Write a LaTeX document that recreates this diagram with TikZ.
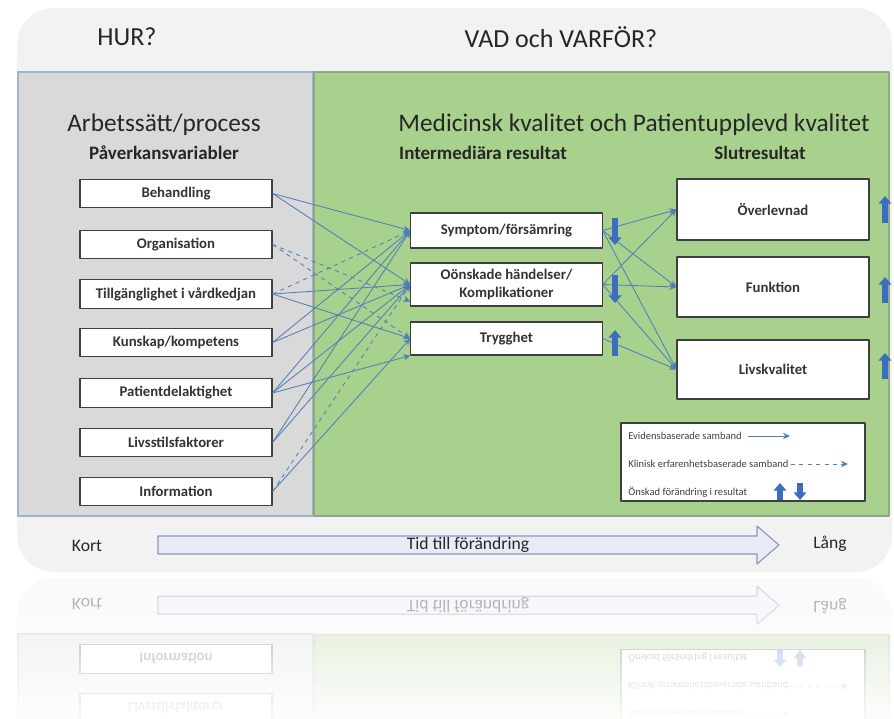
\documentclass[tikz,border=0pt]{standalone}
\usepackage{fontspec}
\setmainfont{Carlito}
\usetikzlibrary{arrows.meta}
\definecolor{panelgray}{HTML}{F2F2F2}
\definecolor{leftgray}{HTML}{D9D9D9}
\definecolor{leftedge}{HTML}{9DB3D6}
\definecolor{greenfill}{HTML}{A9D18E}
\definecolor{greenedge}{HTML}{8FA886}
\definecolor{boxedge}{HTML}{3F3F3F}
\definecolor{linkblue}{HTML}{4F7FB8}
\definecolor{fatblue}{HTML}{3D6DBE}
\definecolor{timefill}{HTML}{E8EBF5}
\definecolor{timeedge}{HTML}{8C97BD}

% det som ocksaa syns i spegelbilden
\newcommand\chartbase{%
  \fill[panelgray,rounded corners=26pt] (17,8) rectangle (892,572);
  \draw[leftedge,fill=leftgray,line width=1.2pt] (18,72) rectangle (313,516);
  \draw[greenedge,fill=greenfill,line width=0.8pt] (314,72) rectangle (889,516);
  \node[pbox] (liv) at (176,442.5) {Livsstilsfaktorer};
  \node[pbox] (inf) at (176,491.5) {Information};
  % teckenforklaring
  \draw[boxedge,fill=white,line width=0.8pt] (621,423) rectangle (865,501);
  \node[legtext] (evid) at (628,436) {Evidensbaserade samband};
  \draw[conn] (evid.east) ++(6,0) -- ++(42,0);
  \node[legtext] (klin) at (628,464) {Klinisk erfarenhetsbaserade samband};
  \draw[conn,dashed] (klin.east) ++(2,0) -- (848,464);
  \node[legtext] (onskad) at (628,492) {Önskad förändring i resultat};
  \draw[fat] (780,500) -- (780,483);
  \draw[fat] (800,483) -- (800,500);
  % tidsaxel
  \draw[timeedge,fill=timefill,line width=0.8pt] (158,536) -- (757,536) -- (757,526)
    -- (779,545) -- (757,564) -- (757,554) -- (158,554) -- cycle;
  \node[timetext] (tid) at (468,545) {Tid till förändring};
  \node[timetext] (kort) at (87,546) {Kort};
  \node[timetext] (lang) at (830,544) {Lång};
}

\begin{document}
\begin{tikzpicture}[x=0.025cm,y=-0.025cm,line join=round,
    title/.style={font=\fontsize{18.5}{22}\selectfont,text=black!85},
    sub/.style={font=\fontsize{18}{21}\selectfont,text=black!85},
    subb/.style={font=\bfseries\fontsize{13.5}{16}\selectfont,text=black!85},
    pbox/.style={draw=boxedge,fill=white,line width=0.8pt,minimum width=4.8cm,
      minimum height=0.72cm,inner sep=1pt,align=center,
      font=\bfseries\fontsize{10.5}{12.5}\selectfont,text=black!80},
    legtext/.style={anchor=west,inner sep=0pt,font=\fontsize{7.5}{9}\selectfont,text=black!75},
    timetext/.style={font=\fontsize{12.5}{14}\selectfont,text=black!85},
    conn/.style={linkblue,line width=0.6pt,-{Stealth[length=5pt,width=4.5pt]}},
    fat/.style={fatblue,line width=4.6pt,-{Triangle[length=5.5pt,width=9pt]}}]
\useasboundingbox (0,0) rectangle (894,718);
\fill[white] (0,0) rectangle (894,718);
\chartbase
\node[title] (hur) at (127,37) {HUR?};
\node[title] (vad) at (561,37) {VAD och VARFÖR?};
\node[sub] (arb) at (164,125) {Arbetssätt/process};
\node[subb] (pav) at (164,153) {Påverkansvariabler};
\node[sub] (med) at (634,125) {Medicinsk kvalitet och Patientupplevd kvalitet};
\node[subb] (inter) at (483,153) {Intermediära resultat};
\node[subb] (slut) at (760,153) {Slutresultat};
% paverkansvariabler
\node[pbox] (beh) at (176,193.5) {Behandling};
\node[pbox] (org) at (176,244.5) {Organisation};
\node[pbox] (till) at (176,294) {Tillgänglighet i vårdkedjan};
\node[pbox] (kun) at (176,342.5) {Kunskap/kompetens};
\node[pbox] (pat) at (176,393) {Patientdelaktighet};
% resultat
\node[pbox,minimum width=4.78cm,minimum height=0.875cm] (sym) at (506.5,230.5) {Symptom/försämring};
\node[pbox,minimum width=4.78cm,minimum height=1.075cm] (onsk) at (506.5,284.5) {Oönskade händelser/\\Komplikationer};
\node[pbox,minimum width=4.78cm,minimum height=0.825cm] (tryg) at (506.5,338.5) {Trygghet};
\node[pbox,minimum height=1.525cm] (over) at (773,209.5) {Överlevnad};
\node[pbox,minimum height=1.5cm] (funk) at (773,287) {Funktion};
\node[pbox,minimum height=1.475cm] (livk) at (773,369.5) {Livskvalitet};
% samband
\draw[conn] (beh.east) -- (sym.west);
\draw[conn] (beh.east) -- (onsk.west);
\draw[conn,dashed] (org.east) -- (onsk.190);
\draw[conn,dashed] (org.east) -- (tryg.west);
\draw[conn,dashed] (till.east) -- (sym.west);
\draw[conn] (till.east) -- (onsk.west);
\draw[conn] (till.east) -- (tryg.west);
\draw[conn] (kun.east) -- (sym.west);
\draw[conn] (kun.east) -- (onsk.west);
\draw[conn] (pat.east) -- (sym.west);
\draw[conn] (pat.east) -- (onsk.west);
\draw[conn] (pat.east) -- (tryg.south west);
\draw[conn] (liv.east) -- (sym.west);
\draw[conn] (liv.east) -- (onsk.west);
\draw[conn,dashed] (inf.east) -- (onsk.west);
\draw[conn] (inf.east) -- (tryg.west);
\draw[conn] (sym.east) -- (over.west);
\draw[conn] (sym.east) -- (funk.west);
\draw[conn] (sym.east) -- (livk.west);
\draw[conn] (onsk.east) -- (over.west);
\draw[conn] (onsk.east) -- (funk.west);
\draw[conn] (onsk.east) -- (livk.west);
\draw[conn] (tryg.east) -- (livk.west);
% onskad forandring
\draw[fat] (615,218) -- (615,245);
\draw[fat] (615,275) -- (615,303);
\draw[fat] (615,356) -- (615,330);
\draw[fat] (885,223) -- (885,196);
\draw[fat] (885,303) -- (885,277);
\draw[fat] (885,379) -- (885,353);
% spegelbild
\begin{scope}
  \clip (0,574) rectangle (894,718);
  \begin{scope}[yshift=-28.75cm,yscale=-1,every node/.append style={transform shape}]
    \chartbase
  \end{scope}
\end{scope}
\foreach \i [evaluate=\i as \op using 0.6+0.026*\i] in {0,...,14}
  \fill[white,opacity=\op] (0,574+10*\i) rectangle (894,584+10*\i);
\end{tikzpicture}
\end{document}
